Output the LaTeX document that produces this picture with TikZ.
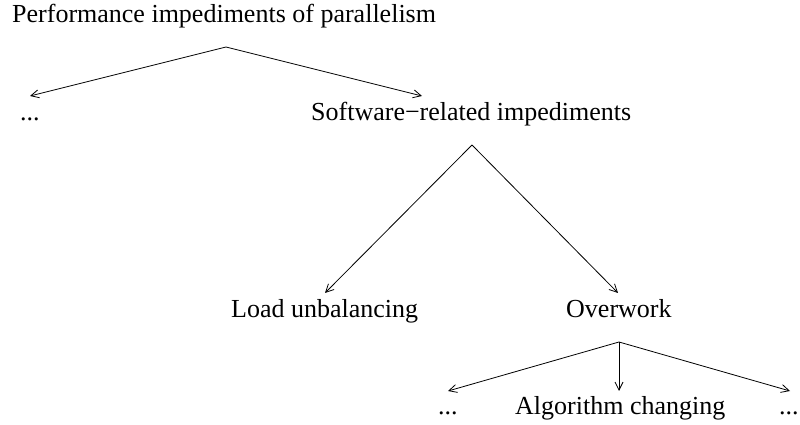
\documentclass[tikz,border=0pt]{standalone}
\usepackage{fontspec}
\setmainfont{Liberation Serif}
\usetikzlibrary{arrows.meta}
\begin{document}
\begin{tikzpicture}[x=1pt,y=1pt,
  lbl/.style={anchor=base west,inner sep=0pt,font=\fontsize{26}{30}\selectfont},
  arr/.style={-{Straight Barb[length=8pt,width=8pt]},line width=0.8pt}]
\useasboundingbox (0,0) rectangle (800,425);
% texts (y = 425 - image y of baseline)
\node[lbl] (title) at (12,402) {Performance impediments of parallelism};
\node[lbl] (dotsA) at (20,304) {...};
\node[lbl] (soft) at (311,304) {Software−related impediments};
\node[lbl] (load) at (231,107) {Load unbalancing};
\node[lbl] (over) at (566,107) {Overwork};
\node[lbl] (dotsB) at (438,10) {...};
\node[lbl] (algo) at (515,10) {Algorithm changing};
\node[lbl] (dotsC) at (779,10) {...};
% connector points
\coordinate (t0) at (226,378);
\coordinate (tA) at (30,329);
\coordinate (tS) at (422,329);
\coordinate (s0) at (472,280);
\coordinate (sL) at (325,132);
\coordinate (sO) at (618,132);
\coordinate (o0) at (619,83);
\coordinate (oB) at (448,34);
\coordinate (oA) at (619,34);
\coordinate (oC) at (790,34);
\draw[arr] (t0) -- (tA);
\draw[arr] (t0) -- (tS);
\draw[arr] (s0) -- (sL);
\draw[arr] (s0) -- (sO);
\draw[arr] (o0) -- (oB);
\draw[arr] (o0) -- (oA);
\draw[arr] (o0) -- (oC);
\end{tikzpicture}
\end{document}
